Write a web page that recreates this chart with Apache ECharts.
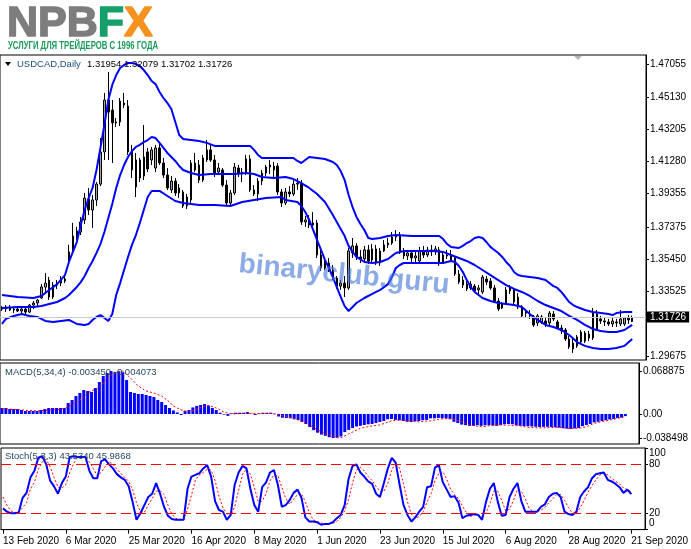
<!DOCTYPE html>
<html><head><meta charset="utf-8">
<script src="https://cdn.jsdelivr.net/npm/echarts@6/dist/echarts.min.js"></script>
<style>html,body{margin:0;padding:0;background:#fff}#c{width:691px;height:549px}</style>
</head><body><div id="c"></div>
<script>
const FONT = '"Liberation Sans", Arial, sans-serif';
const xTickLabels = ['13 Feb 2020','6 Mar 2020','25 Mar 2020','16 Apr 2020','8 May 2020','1 Jun 2020','23 Jun 2020','15 Jul 2020','6 Aug 2020','28 Aug 2020','21 Sep 2020'];
const priceTicks = [1.47055,1.45130,1.43205,1.41280,1.39355,1.37375,1.35450,1.33525,1.29675];
const macdTicks = [0.068875, 0, -0.038498];
const stochTicks = [0, 20, 80, 100];

const open = [1.3247,1.3247,1.3259,1.3241,1.3247,1.3235,1.3247,1.3229,1.3271,1.3283,
1.3313,1.3378,1.3420,1.3319,1.3390,1.3402,1.3426,1.3540,1.3600,1.3683,
1.3707,1.3779,1.3904,1.3838,1.3898,1.3993,1.4185,1.4495,1.4435,1.4358,
1.4364,1.4477,1.4459,1.4185,1.4137,1.4029,1.4041,1.4185,1.4137,1.4089,
1.4209,1.4119,1.4047,1.3958,1.4011,1.3940,1.3946,1.3862,1.3898,1.4077,
1.4107,1.4017,1.4137,1.4197,1.4137,1.4065,1.4077,1.3987,1.3880,1.3940,
1.4089,1.4053,1.4059,1.4143,1.3958,1.3934,1.4011,1.4059,1.4095,1.4077,
1.4101,1.3946,1.3880,1.3946,1.3934,1.3993,1.3999,1.3767,1.3779,1.3749,
1.3761,1.3570,1.3492,1.3522,1.3480,1.3432,1.3384,1.3402,1.3373,1.3582,
1.3624,1.3558,1.3546,1.3600,1.3540,1.3606,1.3522,1.3594,1.3630,1.3641,
1.3677,1.3689,1.3594,1.3564,1.3582,1.3552,1.3534,1.3594,1.3570,1.3600,
1.3588,1.3600,1.3528,1.3570,1.3564,1.3552,1.3456,1.3420,1.3396,1.3373,
1.3384,1.3361,1.3349,1.3426,1.3414,1.3373,1.3295,1.3253,1.3283,1.3355,
1.3367,1.3319,1.3259,1.3223,1.3217,1.3200,1.3164,1.3170,1.3176,1.3164,
1.3217,1.3170,1.3134,1.3122,1.3068,1.3044,1.3027,1.3050,1.3056,1.3098,
1.3074,1.3128,1.3188,1.3176,1.3170,1.3158,1.3170,1.3158,1.3158,1.3194,
1.31954];
const high = [1.3265,1.3271,1.3271,1.3259,1.3265,1.3259,1.3259,1.3277,1.3295,1.3307,
1.3396,1.3462,1.3438,1.3408,1.3420,1.3444,1.3444,1.3630,1.3761,1.3737,
1.3797,1.3940,1.3970,1.3928,1.4005,1.4268,1.4537,1.4662,1.4495,1.4388,
1.4507,1.4537,1.4495,1.4227,1.4179,1.4149,1.4346,1.4209,1.4215,1.4227,
1.4239,1.4149,1.4089,1.4041,1.4029,1.3993,1.3958,1.3934,1.4137,1.4179,
1.4137,1.4167,1.4256,1.4227,1.4167,1.4119,1.4089,1.4017,1.3958,1.4119,
1.4107,1.4089,1.4167,1.4167,1.3987,1.4029,1.4077,1.4107,1.4137,1.4125,
1.4119,1.3964,1.3970,1.3981,1.4017,1.4029,1.4017,1.3803,1.3808,1.3826,
1.3779,1.3600,1.3540,1.3552,1.3510,1.3444,1.3420,1.3444,1.3612,1.3671,
1.3641,1.3600,1.3624,1.3630,1.3636,1.3630,1.3612,1.3659,1.3671,1.3707,
1.3719,1.3707,1.3612,1.3600,1.3600,1.3588,1.3618,1.3624,1.3618,1.3630,
1.3624,1.3618,1.3588,1.3600,1.3600,1.3564,1.3480,1.3444,1.3432,1.3414,
1.3396,1.3390,1.3450,1.3444,1.3432,1.3390,1.3313,1.3289,1.3378,1.3390,
1.3373,1.3343,1.3271,1.3247,1.3241,1.3211,1.3217,1.3211,1.3194,1.3235,
1.3235,1.3182,1.3152,1.3134,1.3086,1.3074,1.3092,1.3122,1.3116,1.3116,
1.3253,1.3241,1.3206,1.3194,1.3188,1.3194,1.3188,1.3241,1.3200,1.3211,
1.32079];
const low = [1.3235,1.3229,1.3235,1.3223,1.3229,1.3223,1.3217,1.3223,1.3247,1.3265,
1.3307,1.3349,1.3301,1.3307,1.3367,1.3384,1.3402,1.3528,1.3588,1.3659,
1.3689,1.3755,1.3808,1.3731,1.3862,1.3981,1.4137,1.4137,1.4119,1.4334,
1.4340,1.4447,1.4167,1.4029,1.3916,1.4005,1.4017,1.4065,1.4107,1.4065,
1.4107,1.4029,1.3958,1.3940,1.3922,1.3910,1.3850,1.3844,1.3868,1.4065,
1.3999,1.4005,1.4125,1.4125,1.4035,1.4047,1.3976,1.3868,1.3856,1.3928,
1.4035,1.4005,1.4047,1.3946,1.3922,1.3892,1.3987,1.4041,1.4053,1.4029,
1.3928,1.3856,1.3868,1.3916,1.3922,1.3958,1.3749,1.3737,1.3731,1.3725,
1.3552,1.3474,1.3480,1.3468,1.3420,1.3367,1.3361,1.3319,1.3361,1.3552,
1.3540,1.3522,1.3528,1.3516,1.3528,1.3510,1.3504,1.3588,1.3612,1.3630,
1.3653,1.3576,1.3546,1.3540,1.3528,1.3516,1.3522,1.3552,1.3558,1.3564,
1.3570,1.3504,1.3522,1.3546,1.3528,1.3444,1.3396,1.3373,1.3355,1.3361,
1.3343,1.3331,1.3337,1.3390,1.3361,1.3283,1.3235,1.3247,1.3271,1.3337,
1.3277,1.3247,1.3194,1.3194,1.3188,1.3140,1.3146,1.3158,1.3140,1.3152,
1.3176,1.3128,1.3098,1.3056,1.3009,1.2985,1.3015,1.3038,1.3044,1.3056,
1.3062,1.3116,1.3158,1.3146,1.3146,1.3140,1.3140,1.3146,1.3146,1.3158,
1.31702];
const close = [1.3247,1.3259,1.3241,1.3247,1.3235,1.3247,1.3229,1.3271,1.3283,1.3301,
1.3379,1.3402,1.3319,1.3390,1.3402,1.3426,1.3414,1.3588,1.3683,1.3713,
1.3767,1.3910,1.3838,1.3898,1.3993,1.4185,1.4495,1.4423,1.4358,1.4364,
1.4489,1.4465,1.4185,1.4077,1.3976,1.4137,1.4155,1.4083,1.4197,1.4209,
1.4119,1.4047,1.3970,1.4011,1.3940,1.3970,1.3862,1.3916,1.4119,1.4119,
1.4017,1.4149,1.4197,1.4137,1.4059,1.4089,1.3987,1.3880,1.3940,1.4095,
1.4053,1.4065,1.4143,1.3958,1.3934,1.4011,1.4059,1.4095,1.4107,1.4101,
1.3946,1.3880,1.3946,1.3934,1.3993,1.3999,1.3767,1.3779,1.3749,1.3761,
1.3570,1.3492,1.3522,1.3480,1.3432,1.3384,1.3402,1.3373,1.3594,1.3624,
1.3558,1.3546,1.3600,1.3534,1.3606,1.3522,1.3594,1.3630,1.3641,1.3677,
1.3689,1.3594,1.3564,1.3582,1.3552,1.3564,1.3594,1.3570,1.3600,1.3588,
1.3606,1.3516,1.3570,1.3564,1.3540,1.3456,1.3408,1.3390,1.3367,1.3396,
1.3355,1.3373,1.3438,1.3408,1.3373,1.3295,1.3247,1.3277,1.3361,1.3373,
1.3289,1.3259,1.3206,1.3235,1.3206,1.3152,1.3206,1.3200,1.3158,1.3223,
1.3188,1.3134,1.3116,1.3068,1.3021,1.3009,1.3080,1.3110,1.3104,1.3074,
1.3223,1.3217,1.3176,1.3170,1.3158,1.3176,1.3164,1.3188,1.3194,1.3182,
1.31726];

// Bollinger bands read at bar indices [bar, value]
const bbUpper = [[0,1.3331],[4,1.3319],[8,1.3313],[10,1.3325],[12,1.3361],[14,1.3396],[16,1.3450],[17,1.3528],[18,1.3588],[19,1.3647],[20,1.3749],[21,1.3838],[22,1.3910],[23,1.3970],[24,1.4077],[25,1.4209],[26,1.4346],[27,1.4495],[28,1.4585],[29,1.4644],[30,1.4686],[31,1.4704],[32,1.4716],[33,1.4716],[34,1.4710],[35,1.4698],[36,1.4674],[37,1.4644],[38,1.4608],[39,1.4590],[40,1.4543],[41,1.4507],[42,1.4477],[43,1.4441],[44,1.4364],[45,1.4286],[46,1.4262],[48,1.4256],[50,1.4250],[52,1.4239],[54,1.4221],[57,1.4221],[60,1.4221],[63,1.4221],[64,1.4197],[65,1.4167],[66,1.4149],[70,1.4149],[74,1.4149],[75,1.4131],[76,1.4119],[77,1.4137],[78,1.4155],[80,1.4149],[82,1.4143],[84,1.4125],[85,1.4107],[86,1.4071],[87,1.4017],[88,1.3928],[89,1.3856],[90,1.3797],[91,1.3755],[92,1.3719],[93,1.3671],[94,1.3665],[96,1.3671],[98,1.3683],[100,1.3689],[104,1.3683],[108,1.3683],[111,1.3683],[112,1.3665],[113,1.3635],[114,1.3618],[116,1.3612],[117,1.3624],[118,1.3641],[119,1.3653],[120,1.3671],[121,1.3677],[122,1.3671],[123,1.3647],[124,1.3618],[125,1.3600],[126,1.3582],[127,1.3558],[128,1.3528],[129,1.3504],[130,1.3468],[131,1.3450],[132,1.3444],[134,1.3438],[136,1.3432],[138,1.3420],[140,1.3384],[141,1.3373],[142,1.3349],[143,1.3319],[144,1.3289],[145,1.3271],[146,1.3259],[148,1.3241],[150,1.3229],[152,1.3223],[154,1.3217],[155,1.3211],[156,1.3223],[158,1.3229],[160,1.3229]];
const bbMiddle = [[0,1.3253],[4,1.3259],[8,1.3259],[10,1.3265],[12,1.3277],[14,1.3289],[16,1.3313],[17,1.3331],[18,1.3355],[19,1.3379],[20,1.3408],[21,1.3444],[22,1.3492],[23,1.3534],[24,1.3582],[25,1.3635],[26,1.3707],[27,1.3791],[28,1.3874],[29,1.3970],[30,1.4047],[31,1.4107],[32,1.4155],[33,1.4191],[34,1.4215],[35,1.4227],[36,1.4244],[37,1.4256],[38,1.4274],[39,1.4268],[40,1.4239],[41,1.4209],[42,1.4179],[43,1.4155],[44,1.4131],[45,1.4101],[46,1.4077],[48,1.4059],[50,1.4047],[53,1.4053],[56,1.4053],[59,1.4053],[62,1.4059],[64,1.4053],[66,1.4035],[69,1.4029],[72,1.4035],[74,1.4023],[76,1.3999],[78,1.3970],[80,1.3934],[82,1.3886],[84,1.3808],[86,1.3725],[87,1.3683],[88,1.3624],[89,1.3588],[90,1.3558],[92,1.3528],[94,1.3522],[96,1.3528],[98,1.3546],[100,1.3582],[102,1.3594],[106,1.3594],[110,1.3594],[112,1.3588],[114,1.3570],[116,1.3552],[118,1.3534],[120,1.3510],[122,1.3480],[124,1.3450],[126,1.3420],[128,1.3390],[130,1.3367],[132,1.3349],[134,1.3325],[136,1.3295],[138,1.3271],[140,1.3253],[142,1.3235],[144,1.3206],[146,1.3182],[148,1.3152],[150,1.3128],[152,1.3116],[154,1.3110],[156,1.3110],[158,1.3122],[160,1.3152]];
const bbLower = [[0,1.3158],[1,1.3188],[3,1.3206],[5,1.3217],[7,1.3206],[9,1.3200],[11,1.3176],[13,1.3170],[15,1.3176],[17,1.3182],[18,1.3170],[19,1.3158],[21,1.3152],[22,1.3158],[23,1.3182],[24,1.3200],[25,1.3211],[26,1.3194],[27,1.3176],[28,1.3217],[29,1.3331],[30,1.3402],[31,1.3480],[32,1.3558],[33,1.3630],[34,1.3689],[35,1.3761],[36,1.3838],[37,1.3916],[38,1.3952],[40,1.3952],[42,1.3922],[44,1.3892],[46,1.3880],[50,1.3868],[54,1.3868],[58,1.3862],[61,1.3886],[64,1.3898],[67,1.3910],[71,1.3916],[72,1.3898],[75,1.3886],[76,1.3862],[77,1.3826],[78,1.3779],[79,1.3719],[80,1.3659],[81,1.3600],[82,1.3540],[83,1.3492],[84,1.3438],[85,1.3378],[86,1.3319],[87,1.3265],[88,1.3235],[89,1.3259],[90,1.3283],[92,1.3313],[94,1.3337],[96,1.3361],[98,1.3396],[99,1.3438],[100,1.3492],[101,1.3510],[102,1.3522],[104,1.3522],[108,1.3522],[112,1.3522],[114,1.3534],[115,1.3528],[116,1.3504],[117,1.3468],[118,1.3420],[119,1.3379],[120,1.3349],[122,1.3313],[124,1.3295],[126,1.3283],[128,1.3277],[130,1.3271],[132,1.3259],[134,1.3217],[136,1.3182],[138,1.3152],[140,1.3140],[142,1.3122],[144,1.3092],[146,1.3050],[148,1.3027],[150,1.3015],[152,1.3009],[154,1.3009],[156,1.3015],[158,1.3027],[160,1.3068]];

const macdHist = [0.0096,0.0096,0.008,0.008,0.008,0.0064,0.0048,0.0048,0.0048,0.0048,
0.0064,0.008,0.0096,0.0096,0.0096,0.0096,0.0096,0.0176,0.0224,0.0288,
0.0336,0.0384,0.0368,0.0352,0.0416,0.0512,0.0608,0.0656,0.068875,0.0672,
0.0685,0.067,0.0544,0.0352,0.0336,0.032,0.032,0.0304,0.0288,0.0272,
0.0224,0.0192,0.0144,0.0096,0.0056,0.0024,-0.0016,0.005,0.0064,0.0105,
0.013,0.0144,0.016,0.0135,0.0096,0.0064,0.002,-0.001,-0.003,0.001,
0.002,0.002,0.002,0.003,0.0005,-0.0015,0.001,0.002,0.002,0.002,
0.0005,-0.004,-0.006,-0.0064,-0.0068,-0.0085,-0.0096,-0.0128,-0.016,-0.0208,
-0.026,-0.03,-0.033,-0.035,-0.0372,-0.038498,-0.038,-0.036,-0.029,-0.0255,
-0.0224,-0.02,-0.019,-0.0176,-0.0165,-0.016,-0.0144,-0.0128,-0.0112,-0.0085,
-0.008,-0.0094,-0.01,-0.0112,-0.0125,-0.0128,-0.0118,-0.0112,-0.01,-0.0096,
-0.007,-0.007,-0.0064,-0.0068,-0.007,-0.0085,-0.0125,-0.0145,-0.017,-0.018,
-0.019,-0.0192,-0.018,-0.019,-0.0182,-0.018,-0.0185,-0.0192,-0.0176,-0.0165,
-0.016,-0.0165,-0.018,-0.019,-0.0192,-0.0196,-0.02,-0.0205,-0.0208,-0.0206,
-0.0205,-0.021,-0.0212,-0.022,-0.0228,-0.0235,-0.024,-0.023,-0.0224,-0.0195,
-0.0176,-0.016,-0.0135,-0.0125,-0.0112,-0.01,-0.0088,-0.008,-0.0066,-0.0058,
-0.00345];
const macdSignal = [[0,0.0085],[3,0.0075],[6,0.006],[9,0.005],[12,0.006],[15,0.0075],[17,0.011],[20,0.0224],[22,0.0336],[25,0.043],[27,0.0576],[29,0.0656],[31,0.0688],[33,0.0576],[35,0.0448],[37,0.0368],[39,0.0336],[41,0.0288],[43,0.0192],[44,0.0128],[46,0.0064],[48,0.003],[50,0.008],[52,0.0125],[53,0.0138],[55,0.0096],[57,0.003],[59,0.0],[61,0.0006],[64,0.001],[66,0.0005],[69,0.001],[71,-0.0016],[74,-0.005],[76,-0.0096],[79,-0.0176],[81,-0.0256],[84,-0.0336],[86,-0.038],[87,-0.038],[89,-0.032],[92,-0.0229],[95,-0.019],[97,-0.0176],[100,-0.011],[102,-0.0096],[105,-0.011],[107,-0.0125],[110,-0.011],[112,-0.0085],[115,-0.0069],[118,-0.0125],[120,-0.0176],[123,-0.0205],[125,-0.019],[128,-0.0176],[130,-0.018],[133,-0.019],[135,-0.0213],[138,-0.0224],[140,-0.022],[143,-0.0213],[145,-0.0229],[148,-0.0229],[150,-0.0205],[152,-0.015],[155,-0.011],[157,-0.0085],[159,-0.0055],[160,-0.004073]];

const stochMain = [26,22,20,20,21,39,45,64,72,88,
90,80,60,53,44,57,65,89,90,89,
89,89,72,63,63,84,86,80,75,68,
64,61,53,34,12,20,30,40,44,57,
44,28,17,13,12,12,12,50,65,67,
69,75,79,65,35,24,22,12,18,55,
70,78,75,50,30,22,52,58,70,73,
55,28,30,36,45,49,39,15,10,10,
9,6,7,7,9,14,18,30,62,78,
80,70,65,59,56,44,40,57,75,88,
82,55,30,18,10,15,22,28,52,53,
76,79,58,49,40,41,33,14,17,18,
19,18,12,34,50,57,34,17,18,40,
50,57,35,22,22,22,22,28,31,40,
44,45,40,22,19,18,22,40,47,52,
63,68,69,70,61,59,56,52,45,49,
43.534];
const stochSignal = [40,30,23,21,21,27,33,50,58,74,
83,86,77,64,52,51,55,70,81,89,
89,89,83,75,66,70,77,83,80,74,
69,64,59,49,33,22,21,30,38,47,
48,43,30,19,14,12,12,25,42,61,
67,70,74,73,60,41,27,19,17,28,
48,68,74,68,52,34,35,44,60,67,
66,52,38,31,37,43,44,34,21,12,
10,8,7,7,8,10,15,23,37,57,
73,76,72,65,60,53,47,47,57,73,
82,75,56,34,19,14,16,22,34,44,
60,69,71,62,49,43,38,29,21,16,
18,18,16,21,32,47,47,36,23,25,
36,49,47,38,26,22,22,24,27,33,
38,43,43,36,27,20,20,27,36,46,
54,61,67,69,67,63,59,56,51,49,
45.9868];
const stochLevels = [80, 20];
const lastPrice = 1.31726;

const N = close.length;
const PAD = 3;
const cats = Array.from({length: N + PAD}, (_, i) => String(i));
const candles = close.map((c, i) => [open[i], c, low[i], high[i]]);

const chart = echarts.init(document.getElementById('c'), null, {renderer: 'canvas'});
const isTick = (i) => i % 16 === 0 && i < N;
const xAxes = [0, 1, 2].map(g => ({
  type: 'category', gridIndex: g, data: cats, boundaryGap: true,
  axisLine: {show: g === 2, onZero: false, lineStyle: {color: '#000', width: 1}},
  axisTick: {show: g === 2, interval: (i) => isTick(i), alignWithLabel: true, length: 4, lineStyle: {color: '#000'}},
  axisLabel: {show: g === 2, interval: (i) => isTick(i), formatter: (v, i) => xTickLabels[i / 16] || '',
    align: 'left', fontSize: 10, color: '#000', margin: 7, fontFamily: FONT},
  splitLine: {show: false}
}));
const yBase = (g, min, max, ticks, fmt, extraLabel) => ({
  type: 'value', gridIndex: g, position: 'right', min, max,
  axisLine: {show: true, lineStyle: {color: '#000'}},
  axisTick: {show: true, customValues: ticks, length: 3, lineStyle: {color: '#000'}},
  axisLabel: Object.assign({customValues: ticks, formatter: fmt, fontSize: 10, color: '#000', margin: 4, fontFamily: FONT}, extraLabel || {}),
  splitLine: {show: false}
});
const gridStyle = {show: true, borderColor: '#000', borderWidth: 1, containLabel: false};

chart.setOption({
  animation: false,
  backgroundColor: '#fff',
  grid: [
    Object.assign({left: 0, top: 55, width: 646, height: 305}, gridStyle),
    Object.assign({left: 0, top: 363, width: 646, height: 81}, gridStyle),
    Object.assign({left: 0, top: 448, width: 646, height: 81.6}, gridStyle)
  ],
  xAxis: xAxes,
  yAxis: [
    yBase(0, 1.29428, 1.47637, priceTicks, v => v.toFixed(5)),
    yBase(1, -0.0481, 0.0817, macdTicks, v => v === 0 ? '0.00' : v.toFixed(6)),
    yBase(2, 0, 100, stochTicks, v => v === 100 ? '{t|100}' : (v === 0 ? '{b|0}' : String(v)),
      {rich: {t: {padding: [11, 0, 0, 0], fontSize: 10, fontFamily: FONT, color: '#000'}, b: {padding: [0, 0, 12, 0], fontSize: 10, fontFamily: FONT, color: '#000'}}})
  ],
  series: [
    {type: 'candlestick', xAxisIndex: 0, yAxisIndex: 0, data: candles, barWidth: 2,
      itemStyle: {color: '#a4a4a4', color0: '#000000', borderColor: '#000000', borderColor0: '#000000', borderWidth: 1},
      markLine: {symbol: 'none', silent: true, data: [{yAxis: lastPrice}],
        lineStyle: {color: '#c8c8c8', type: 'solid', width: 1},
        label: {show: true, position: 'end', formatter: lastPrice.toFixed(5), color: '#fff', backgroundColor: '#000', padding: [1, 3, 0, 3], fontSize: 10, fontFamily: FONT, distance: 1}},
      z: 2},
    {type: 'line', xAxisIndex: 0, yAxisIndex: 0, data: bbUpper, showSymbol: false, lineStyle: {color: '#0000ff', width: 2}, z: 3},
    {type: 'line', xAxisIndex: 0, yAxisIndex: 0, data: bbMiddle, showSymbol: false, lineStyle: {color: '#0000ff', width: 2}, z: 3},
    {type: 'line', xAxisIndex: 0, yAxisIndex: 0, data: bbLower, showSymbol: false, lineStyle: {color: '#0000ff', width: 2}, z: 3},
    {type: 'bar', xAxisIndex: 1, yAxisIndex: 1, data: macdHist, barWidth: 3, itemStyle: {color: '#0000ff'}},
    {type: 'line', xAxisIndex: 1, yAxisIndex: 1, data: macdSignal, showSymbol: false, lineStyle: {color: '#ff0000', width: 1, type: [2, 2]}, z: 3},
    {type: 'line', xAxisIndex: 2, yAxisIndex: 2, data: stochMain, showSymbol: false, lineStyle: {color: '#0000ff', width: 2}, z: 4,
      markLine: {symbol: 'none', silent: true, data: stochLevels.map(v => ({yAxis: v})), label: {show: false},
        lineStyle: {color: '#ff0000', width: 1, type: [10, 5]}}},
    {type: 'line', xAxisIndex: 2, yAxisIndex: 2, data: stochSignal, showSymbol: false, lineStyle: {color: '#ff0000', width: 1, type: [2, 2]}, z: 3}
  ]
});

// measure subtitle width for condensed look
const cv = document.createElement('canvas').getContext('2d');
const subTxt = 'УСЛУГИ ДЛЯ ТРЕЙДЕРОВ С 1996 ГОДА';
cv.font = 'bold 11px ' + FONT;
const subScale = 150 / cv.measureText(subTxt).width;

chart.setOption({
  graphic: [
    {type: 'text', x: 7, y: 3, style: {text: '{g|NPB}{f|F}{x|X}', rich: {
      g: {fill: '#7d7d7d', stroke: '#7d7d7d', lineWidth: 1.5, font: 'bold 43px ' + FONT},
      f: {fill: '#15a06b', stroke: '#15a06b', lineWidth: 1.5, font: 'bold 43px ' + FONT},
      x: {fill: '#f5921e', stroke: '#f5921e', lineWidth: 1.5, font: 'bold 43px ' + FONT}}}},
    {type: 'text', x: 8, y: 40, scaleX: subScale, style: {text: subTxt, fill: '#1b9a5c', font: 'bold 11px ' + FONT}},
    {type: 'polygon', shape: {points: [[5, 62], [11, 62], [8, 66]]}, style: {fill: '#000'}},
    {type: 'text', x: 17, y: 64, style: {text: 'USDCAD,Daily', fill: '#1c4f7c', font: '9.5px ' + FONT, verticalAlign: 'middle'}},
    {type: 'text', x: 87, y: 64, style: {text: '1.31954 1.32079 1.31702 1.31726', fill: '#000', font: '9.5px ' + FONT, verticalAlign: 'middle'}, z: 10},
    {type: 'text', x: 5, y: 372, style: {text: 'MACD(5,34,4) -0.003450 -0.004073', fill: '#1c3f5c', font: '9.5px ' + FONT, verticalAlign: 'middle'}, z: 10},
    {type: 'text', x: 5, y: 456, style: {text: 'Stoch(5,3,3) 43.5340 45.9868', fill: '#1c3f5c', font: '9.5px ' + FONT, verticalAlign: 'middle'}, z: 10},
    {type: 'polygon', shape: {points: [[574, 56], [582, 56], [578, 60]]}, style: {fill: '#b8b8b8'}},
    {type: 'text', x: 344, y: 275, rotation: -0.1, style: {text: 'binaryclub.guru', fill: 'rgba(70,120,215,0.62)', font: 'bold 28px ' + FONT, align: 'center', verticalAlign: 'middle'}, z: 100}
  ]
});
</script>
</body></html>
